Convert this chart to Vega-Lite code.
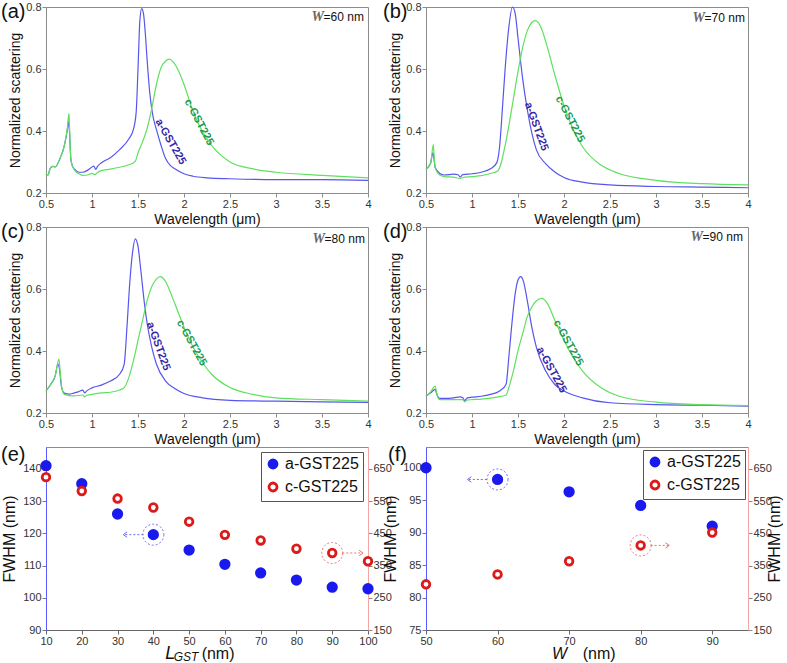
{
"$schema": "https://vega.github.io/schema/vega-lite/v6.json",
"padding": 0,
"background": "white",
"config": {
  "font": "Liberation Sans",
  "view": {"stroke": "#8c8c8c", "strokeWidth": 1},
  "point": {"opacity": 1},
  "axis": {"grid": false, "labelFont": "Liberation Sans", "labelFontSize": 11, "labelColor": "#333", "titleFont": "Liberation Sans", "titleFontSize": 14, "titleFontWeight": "normal", "titleColor": "#111", "domainColor": "#8c8c8c", "tickColor": "#8c8c8c", "tickSize": 4, "labelPadding": 1, "titlePadding": 3, "labelFlush": false, "labelOverlap": false},
  "axisX": {"labelOverlap": false},
  "title": {"fontSize": 20, "fontWeight": "normal", "anchor": "start", "frame": "group", "color": "#111", "font": "Liberation Sans"}
},
"datasets": {
  "w60": [
    {"x":0.5,"v":0.262,"s":"a"},{"x":0.52,"v":0.258,"s":"a"},{"x":0.55,"v":0.282,"s":"a"},{"x":0.58,"v":0.286,"s":"a"},{"x":0.6,"v":0.284,"s":"a"},{"x":0.65,"v":0.31,"s":"a"},{"x":0.7,"v":0.354,"s":"a"},{"x":0.73,"v":0.4,"s":"a"},{"x":0.745,"v":0.43,"s":"a"},{"x":0.755,"v":0.4,"s":"a"},{"x":0.77,"v":0.31,"s":"a"},{"x":0.79,"v":0.285,"s":"a"},{"x":0.82,"v":0.274,"s":"a"},{"x":0.86,"v":0.267,"s":"a"},{"x":0.9,"v":0.267,"s":"a"},{"x":0.95,"v":0.273,"s":"a"},{"x":1.0,"v":0.284,"s":"a"},{"x":1.02,"v":0.287,"s":"a"},{"x":1.04,"v":0.276,"s":"a"},{"x":1.06,"v":0.286,"s":"a"},{"x":1.1,"v":0.297,"s":"a"},{"x":1.2,"v":0.314,"s":"a"},{"x":1.3,"v":0.34,"s":"a"},{"x":1.4,"v":0.374,"s":"a"},{"x":1.45,"v":0.405,"s":"a"},{"x":1.48,"v":0.46,"s":"a"},{"x":1.5,"v":0.6,"s":"a"},{"x":1.52,"v":0.755,"s":"a"},{"x":1.54,"v":0.795,"s":"a"},{"x":1.56,"v":0.778,"s":"a"},{"x":1.58,"v":0.713,"s":"a"},{"x":1.6,"v":0.626,"s":"a"},{"x":1.63,"v":0.517,"s":"a"},{"x":1.66,"v":0.452,"s":"a"},{"x":1.7,"v":0.405,"s":"a"},{"x":1.75,"v":0.354,"s":"a"},{"x":1.8,"v":0.311,"s":"a"},{"x":1.85,"v":0.289,"s":"a"},{"x":1.9,"v":0.278,"s":"a"},{"x":2.0,"v":0.262,"s":"a"},{"x":2.1,"v":0.254,"s":"a"},{"x":2.25,"v":0.249,"s":"a"},{"x":2.5,"v":0.246,"s":"a"},{"x":3.0,"v":0.243,"s":"a"},{"x":3.5,"v":0.243,"s":"a"},{"x":4.0,"v":0.241,"s":"a"},
    {"x":0.5,"v":0.262,"s":"c"},{"x":0.52,"v":0.258,"s":"c"},{"x":0.55,"v":0.282,"s":"c"},{"x":0.58,"v":0.286,"s":"c"},{"x":0.6,"v":0.284,"s":"c"},{"x":0.65,"v":0.31,"s":"c"},{"x":0.7,"v":0.354,"s":"c"},{"x":0.73,"v":0.405,"s":"c"},{"x":0.75,"v":0.457,"s":"c"},{"x":0.755,"v":0.42,"s":"c"},{"x":0.77,"v":0.31,"s":"c"},{"x":0.79,"v":0.285,"s":"c"},{"x":0.82,"v":0.27,"s":"c"},{"x":0.86,"v":0.262,"s":"c"},{"x":0.9,"v":0.257,"s":"c"},{"x":0.95,"v":0.258,"s":"c"},{"x":1.0,"v":0.263,"s":"c"},{"x":1.03,"v":0.259,"s":"c"},{"x":1.06,"v":0.266,"s":"c"},{"x":1.1,"v":0.272,"s":"c"},{"x":1.2,"v":0.277,"s":"c"},{"x":1.3,"v":0.283,"s":"c"},{"x":1.4,"v":0.291,"s":"c"},{"x":1.47,"v":0.302,"s":"c"},{"x":1.5,"v":0.33,"s":"c"},{"x":1.55,"v":0.365,"s":"c"},{"x":1.6,"v":0.409,"s":"c"},{"x":1.65,"v":0.474,"s":"c"},{"x":1.7,"v":0.55,"s":"c"},{"x":1.75,"v":0.604,"s":"c"},{"x":1.8,"v":0.626,"s":"c"},{"x":1.84,"v":0.632,"s":"c"},{"x":1.88,"v":0.624,"s":"c"},{"x":1.95,"v":0.588,"s":"c"},{"x":2.0,"v":0.55,"s":"c"},{"x":2.1,"v":0.463,"s":"c"},{"x":2.2,"v":0.398,"s":"c"},{"x":2.3,"v":0.354,"s":"c"},{"x":2.4,"v":0.322,"s":"c"},{"x":2.5,"v":0.3,"s":"c"},{"x":2.75,"v":0.278,"s":"c"},{"x":3.0,"v":0.267,"s":"c"},{"x":3.5,"v":0.257,"s":"c"},{"x":4.0,"v":0.249,"s":"c"}
  ],
  "w70": [
    {"x":0.5,"v":0.276,"s":"a"},{"x":0.55,"v":0.296,"s":"a"},{"x":0.575,"v":0.33,"s":"a"},{"x":0.585,"v":0.315,"s":"a"},{"x":0.6,"v":0.282,"s":"a"},{"x":0.65,"v":0.263,"s":"a"},{"x":0.7,"v":0.258,"s":"a"},{"x":0.75,"v":0.259,"s":"a"},{"x":0.8,"v":0.261,"s":"a"},{"x":0.85,"v":0.259,"s":"a"},{"x":0.87,"v":0.252,"s":"a"},{"x":0.9,"v":0.259,"s":"a"},{"x":1.0,"v":0.262,"s":"a"},{"x":1.1,"v":0.267,"s":"a"},{"x":1.2,"v":0.278,"s":"a"},{"x":1.27,"v":0.298,"s":"a"},{"x":1.3,"v":0.35,"s":"a"},{"x":1.33,"v":0.47,"s":"a"},{"x":1.36,"v":0.6,"s":"a"},{"x":1.4,"v":0.734,"s":"a"},{"x":1.44,"v":0.8,"s":"a"},{"x":1.47,"v":0.778,"s":"a"},{"x":1.5,"v":0.7,"s":"a"},{"x":1.55,"v":0.57,"s":"a"},{"x":1.6,"v":0.471,"s":"a"},{"x":1.65,"v":0.394,"s":"a"},{"x":1.7,"v":0.339,"s":"a"},{"x":1.8,"v":0.295,"s":"a"},{"x":1.9,"v":0.268,"s":"a"},{"x":2.0,"v":0.25,"s":"a"},{"x":2.2,"v":0.235,"s":"a"},{"x":2.5,"v":0.226,"s":"a"},{"x":3.0,"v":0.221,"s":"a"},{"x":3.5,"v":0.219,"s":"a"},{"x":4.0,"v":0.217,"s":"a"},
    {"x":0.5,"v":0.276,"s":"c"},{"x":0.55,"v":0.296,"s":"c"},{"x":0.58,"v":0.356,"s":"c"},{"x":0.59,"v":0.31,"s":"c"},{"x":0.6,"v":0.282,"s":"c"},{"x":0.65,"v":0.258,"s":"c"},{"x":0.7,"v":0.253,"s":"c"},{"x":0.8,"v":0.251,"s":"c"},{"x":0.87,"v":0.247,"s":"c"},{"x":0.9,"v":0.25,"s":"c"},{"x":1.0,"v":0.253,"s":"c"},{"x":1.1,"v":0.256,"s":"c"},{"x":1.2,"v":0.263,"s":"c"},{"x":1.28,"v":0.271,"s":"c"},{"x":1.32,"v":0.3,"s":"c"},{"x":1.35,"v":0.339,"s":"c"},{"x":1.4,"v":0.416,"s":"c"},{"x":1.45,"v":0.504,"s":"c"},{"x":1.5,"v":0.592,"s":"c"},{"x":1.55,"v":0.668,"s":"c"},{"x":1.6,"v":0.723,"s":"c"},{"x":1.65,"v":0.75,"s":"c"},{"x":1.69,"v":0.756,"s":"c"},{"x":1.75,"v":0.734,"s":"c"},{"x":1.8,"v":0.69,"s":"c"},{"x":1.9,"v":0.581,"s":"c"},{"x":2.0,"v":0.482,"s":"c"},{"x":2.1,"v":0.405,"s":"c"},{"x":2.2,"v":0.35,"s":"c"},{"x":2.4,"v":0.29,"s":"c"},{"x":2.6,"v":0.263,"s":"c"},{"x":3.0,"v":0.241,"s":"c"},{"x":3.5,"v":0.23,"s":"c"},{"x":4.0,"v":0.226,"s":"c"}
  ],
  "w80": [
    {"x":0.5,"v":0.271,"s":"a"},{"x":0.55,"v":0.292,"s":"a"},{"x":0.6,"v":0.32,"s":"a"},{"x":0.63,"v":0.358,"s":"a"},{"x":0.645,"v":0.345,"s":"a"},{"x":0.67,"v":0.282,"s":"a"},{"x":0.7,"v":0.264,"s":"a"},{"x":0.75,"v":0.261,"s":"a"},{"x":0.8,"v":0.264,"s":"a"},{"x":0.85,"v":0.268,"s":"a"},{"x":0.9,"v":0.274,"s":"a"},{"x":0.92,"v":0.265,"s":"a"},{"x":0.95,"v":0.273,"s":"a"},{"x":1.0,"v":0.281,"s":"a"},{"x":1.1,"v":0.29,"s":"a"},{"x":1.2,"v":0.303,"s":"a"},{"x":1.3,"v":0.325,"s":"a"},{"x":1.35,"v":0.358,"s":"a"},{"x":1.38,"v":0.477,"s":"a"},{"x":1.41,"v":0.618,"s":"a"},{"x":1.44,"v":0.716,"s":"a"},{"x":1.47,"v":0.762,"s":"a"},{"x":1.5,"v":0.738,"s":"a"},{"x":1.53,"v":0.662,"s":"a"},{"x":1.57,"v":0.553,"s":"a"},{"x":1.6,"v":0.488,"s":"a"},{"x":1.65,"v":0.412,"s":"a"},{"x":1.7,"v":0.358,"s":"a"},{"x":1.8,"v":0.303,"s":"a"},{"x":1.9,"v":0.279,"s":"a"},{"x":2.0,"v":0.263,"s":"a"},{"x":2.2,"v":0.249,"s":"a"},{"x":2.5,"v":0.241,"s":"a"},{"x":3.0,"v":0.238,"s":"a"},{"x":3.5,"v":0.236,"s":"a"},{"x":4.0,"v":0.234,"s":"a"},
    {"x":0.5,"v":0.271,"s":"c"},{"x":0.55,"v":0.292,"s":"c"},{"x":0.6,"v":0.32,"s":"c"},{"x":0.64,"v":0.374,"s":"c"},{"x":0.655,"v":0.33,"s":"c"},{"x":0.67,"v":0.285,"s":"c"},{"x":0.7,"v":0.26,"s":"c"},{"x":0.8,"v":0.255,"s":"c"},{"x":0.9,"v":0.258,"s":"c"},{"x":0.92,"v":0.252,"s":"c"},{"x":0.95,"v":0.258,"s":"c"},{"x":1.0,"v":0.26,"s":"c"},{"x":1.1,"v":0.265,"s":"c"},{"x":1.2,"v":0.267,"s":"c"},{"x":1.3,"v":0.274,"s":"c"},{"x":1.35,"v":0.282,"s":"c"},{"x":1.4,"v":0.314,"s":"c"},{"x":1.45,"v":0.368,"s":"c"},{"x":1.5,"v":0.434,"s":"c"},{"x":1.55,"v":0.499,"s":"c"},{"x":1.6,"v":0.564,"s":"c"},{"x":1.65,"v":0.608,"s":"c"},{"x":1.7,"v":0.632,"s":"c"},{"x":1.74,"v":0.64,"s":"c"},{"x":1.8,"v":0.624,"s":"c"},{"x":1.85,"v":0.591,"s":"c"},{"x":1.9,"v":0.553,"s":"c"},{"x":2.0,"v":0.477,"s":"c"},{"x":2.1,"v":0.412,"s":"c"},{"x":2.2,"v":0.363,"s":"c"},{"x":2.3,"v":0.325,"s":"c"},{"x":2.5,"v":0.282,"s":"c"},{"x":2.75,"v":0.26,"s":"c"},{"x":3.0,"v":0.249,"s":"c"},{"x":3.5,"v":0.243,"s":"c"},{"x":4.0,"v":0.238,"s":"c"}
  ],
  "w90": [
    {"x":0.5,"v":0.254,"s":"a"},{"x":0.55,"v":0.265,"s":"a"},{"x":0.6,"v":0.276,"s":"a"},{"x":0.61,"v":0.268,"s":"a"},{"x":0.63,"v":0.252,"s":"a"},{"x":0.65,"v":0.247,"s":"a"},{"x":0.7,"v":0.247,"s":"a"},{"x":0.8,"v":0.249,"s":"a"},{"x":0.87,"v":0.252,"s":"a"},{"x":0.9,"v":0.249,"s":"a"},{"x":0.92,"v":0.24,"s":"a"},{"x":0.95,"v":0.249,"s":"a"},{"x":1.0,"v":0.251,"s":"a"},{"x":1.1,"v":0.254,"s":"a"},{"x":1.2,"v":0.26,"s":"a"},{"x":1.3,"v":0.271,"s":"a"},{"x":1.37,"v":0.292,"s":"a"},{"x":1.4,"v":0.379,"s":"a"},{"x":1.43,"v":0.477,"s":"a"},{"x":1.47,"v":0.586,"s":"a"},{"x":1.5,"v":0.629,"s":"a"},{"x":1.53,"v":0.64,"s":"a"},{"x":1.56,"v":0.624,"s":"a"},{"x":1.6,"v":0.564,"s":"a"},{"x":1.65,"v":0.477,"s":"a"},{"x":1.7,"v":0.412,"s":"a"},{"x":1.8,"v":0.336,"s":"a"},{"x":1.9,"v":0.292,"s":"a"},{"x":2.0,"v":0.271,"s":"a"},{"x":2.2,"v":0.249,"s":"a"},{"x":2.5,"v":0.233,"s":"a"},{"x":3.0,"v":0.227,"s":"a"},{"x":3.5,"v":0.225,"s":"a"},{"x":4.0,"v":0.222,"s":"a"},
    {"x":0.5,"v":0.254,"s":"c"},{"x":0.55,"v":0.268,"s":"c"},{"x":0.6,"v":0.287,"s":"c"},{"x":0.615,"v":0.265,"s":"c"},{"x":0.63,"v":0.25,"s":"c"},{"x":0.65,"v":0.243,"s":"c"},{"x":0.7,"v":0.243,"s":"c"},{"x":0.8,"v":0.243,"s":"c"},{"x":0.9,"v":0.243,"s":"c"},{"x":0.92,"v":0.236,"s":"c"},{"x":0.95,"v":0.242,"s":"c"},{"x":1.0,"v":0.243,"s":"c"},{"x":1.1,"v":0.245,"s":"c"},{"x":1.2,"v":0.248,"s":"c"},{"x":1.3,"v":0.253,"s":"c"},{"x":1.37,"v":0.258,"s":"c"},{"x":1.4,"v":0.282,"s":"c"},{"x":1.45,"v":0.336,"s":"c"},{"x":1.5,"v":0.401,"s":"c"},{"x":1.55,"v":0.455,"s":"c"},{"x":1.6,"v":0.51,"s":"c"},{"x":1.65,"v":0.542,"s":"c"},{"x":1.7,"v":0.562,"s":"c"},{"x":1.76,"v":0.57,"s":"c"},{"x":1.82,"v":0.553,"s":"c"},{"x":1.9,"v":0.499,"s":"c"},{"x":2.0,"v":0.434,"s":"c"},{"x":2.1,"v":0.379,"s":"c"},{"x":2.2,"v":0.336,"s":"c"},{"x":2.4,"v":0.282,"s":"c"},{"x":2.6,"v":0.254,"s":"c"},{"x":3.0,"v":0.235,"s":"c"},{"x":3.5,"v":0.227,"s":"c"},{"x":4.0,"v":0.224,"s":"c"}
  ],
  "fe": [
    {"L":10,"g":"a-GST225","f":141.0},{"L":20,"g":"a-GST225","f":135.4},{"L":30,"g":"a-GST225","f":126.0},{"L":40,"g":"a-GST225","f":119.6},{"L":50,"g":"a-GST225","f":114.8},{"L":60,"g":"a-GST225","f":110.4},{"L":70,"g":"a-GST225","f":107.7},{"L":80,"g":"a-GST225","f":105.5},{"L":90,"g":"a-GST225","f":103.3},{"L":100,"g":"a-GST225","f":102.8},
    {"L":10,"g":"c-GST225","f":624.4},{"L":20,"g":"c-GST225","f":581.4},{"L":30,"g":"c-GST225","f":557.9},{"L":40,"g":"c-GST225","f":530.2},{"L":50,"g":"c-GST225","f":486.2},{"L":60,"g":"c-GST225","f":445.3},{"L":70,"g":"c-GST225","f":427.9},{"L":80,"g":"c-GST225","f":402.3},{"L":90,"g":"c-GST225","f":389.0},{"L":100,"g":"c-GST225","f":363.4}
  ],
  "ff": [
    {"W":50,"g":"a-GST225","f":100.0},{"W":60,"g":"a-GST225","f":98.2},{"W":70,"g":"a-GST225","f":96.3},{"W":80,"g":"a-GST225","f":94.2},{"W":90,"g":"a-GST225","f":91.0},
    {"W":50,"g":"c-GST225","f":291.8},{"W":60,"g":"c-GST225","f":322.5},{"W":70,"g":"c-GST225","f":363.4},{"W":80,"g":"c-GST225","f":412.5},{"W":90,"g":"c-GST225","f":452.5}
  ],
  "one": [{}]
},
"concat": [
    {"width": 322, "height": 186,
     "title": {"text": "(a)", "dx": -45, "offset": -21},
     "layer": [
       {"data": {"name": "w60"}, "mark": {"type": "line", "strokeWidth": 1.2, "interpolate": "monotone"},
        "encoding": {
          "x": {"field": "x", "type": "quantitative", "scale": {"domain": [0.5, 4], "nice": false, "zero": false}, "axis": {"title": "Wavelength (μm)", "values": [0.5,1,1.5,2,2.5,3,3.5,4], "format": "~g"}},
          "y": {"field": "v", "type": "quantitative", "scale": {"domain": [0.2, 0.8], "nice": false, "zero": false}, "axis": {"title": "Normalized scattering", "values": [0.2,0.4,0.6,0.8], "format": ".1f"}},
          "color": {"field": "s", "type": "nominal", "scale": {"domain": ["c", "a"], "range": ["#5fe05f", "#5656ee"]}, "legend": null}}},
       {"data": {"name": "one"}, "mark": {"type": "text", "angle": 60, "fontSize": 11, "fontWeight": "bold", "color": "#3526a8"}, "encoding": {"x": {"datum": 1.853}, "y": {"datum": 0.365}, "text": {"value": "a-GST225"}}},
       {"data": {"name": "one"}, "mark": {"type": "text", "angle": 62, "fontSize": 11, "fontWeight": "bold", "color": "#1f9b55"}, "encoding": {"x": {"datum": 2.162}, "y": {"datum": 0.428}, "text": {"value": "c-GST225"}}},
       {"data": {"name": "one"}, "mark": {"type": "text", "align": "right", "fontSize": 12, "color": "#111"}, "encoding": {"x": {"datum": 3.956}, "y": {"datum": 0.768}, "text": {"value": "=60 nm"}}},
       {"data": {"name": "one"}, "mark": {"type": "text", "align": "right", "dx": -40, "fontSize": 14, "font": "Liberation Serif", "fontStyle": "italic", "fontWeight": "bold", "color": "#666"}, "encoding": {"x": {"datum": 3.956}, "y": {"datum": 0.768}, "text": {"value": "W"}}}
     ]},
    {"width": 322, "height": 186,
     "title": {"text": "(b)", "dx": -43, "offset": -21},
     "layer": [
       {"data": {"name": "w70"}, "mark": {"type": "line", "strokeWidth": 1.2, "interpolate": "monotone"},
        "encoding": {
          "x": {"field": "x", "type": "quantitative", "scale": {"domain": [0.5, 4], "nice": false, "zero": false}, "axis": {"title": "Wavelength (μm)", "values": [0.5,1,1.5,2,2.5,3,3.5,4], "format": "~g"}},
          "y": {"field": "v", "type": "quantitative", "scale": {"domain": [0.2, 0.8], "nice": false, "zero": false}, "axis": {"title": "Normalized scattering", "values": [0.2,0.4,0.6,0.8], "format": ".1f"}},
          "color": {"field": "s", "type": "nominal", "scale": {"domain": ["c", "a"], "range": ["#5fe05f", "#5656ee"]}, "legend": null}}},
       {"data": {"name": "one"}, "mark": {"type": "text", "angle": 70, "fontSize": 11, "fontWeight": "bold", "color": "#3526a8"}, "encoding": {"x": {"datum": 1.698}, "y": {"datum": 0.414}, "text": {"value": "a-GST225"}}},
       {"data": {"name": "one"}, "mark": {"type": "text", "angle": 62, "fontSize": 11, "fontWeight": "bold", "color": "#1f9b55"}, "encoding": {"x": {"datum": 2.064}, "y": {"datum": 0.438}, "text": {"value": "c-GST225"}}},
       {"data": {"name": "one"}, "mark": {"type": "text", "align": "right", "fontSize": 12, "color": "#111"}, "encoding": {"x": {"datum": 3.967}, "y": {"datum": 0.765}, "text": {"value": "=70 nm"}}},
       {"data": {"name": "one"}, "mark": {"type": "text", "align": "right", "dx": -40, "fontSize": 14, "font": "Liberation Serif", "fontStyle": "italic", "fontWeight": "bold", "color": "#666"}, "encoding": {"x": {"datum": 3.967}, "y": {"datum": 0.765}, "text": {"value": "W"}}}
     ]},
    {"width": 322, "height": 186,
     "title": {"text": "(c)", "dx": -45, "offset": -21},
     "layer": [
       {"data": {"name": "w80"}, "mark": {"type": "line", "strokeWidth": 1.2, "interpolate": "monotone"},
        "encoding": {
          "x": {"field": "x", "type": "quantitative", "scale": {"domain": [0.5, 4], "nice": false, "zero": false}, "axis": {"title": "Wavelength (μm)", "values": [0.5,1,1.5,2,2.5,3,3.5,4], "format": "~g"}},
          "y": {"field": "v", "type": "quantitative", "scale": {"domain": [0.2, 0.8], "nice": false, "zero": false}, "axis": {"title": "Normalized scattering", "values": [0.2,0.4,0.6,0.8], "format": ".1f"}},
          "color": {"field": "s", "type": "nominal", "scale": {"domain": ["c", "a"], "range": ["#5fe05f", "#5656ee"]}, "legend": null}}},
       {"data": {"name": "one"}, "mark": {"type": "text", "angle": 70, "fontSize": 11, "fontWeight": "bold", "color": "#3526a8"}, "encoding": {"x": {"datum": 1.719}, "y": {"datum": 0.415}, "text": {"value": "a-GST225"}}},
       {"data": {"name": "one"}, "mark": {"type": "text", "angle": 61, "fontSize": 11, "fontWeight": "bold", "color": "#1f9b55"}, "encoding": {"x": {"datum": 2.082}, "y": {"datum": 0.426}, "text": {"value": "c-GST225"}}},
       {"data": {"name": "one"}, "mark": {"type": "text", "align": "right", "fontSize": 12, "color": "#111"}, "encoding": {"x": {"datum": 3.967}, "y": {"datum": 0.761}, "text": {"value": "=80 nm"}}},
       {"data": {"name": "one"}, "mark": {"type": "text", "align": "right", "dx": -40, "fontSize": 14, "font": "Liberation Serif", "fontStyle": "italic", "fontWeight": "bold", "color": "#666"}, "encoding": {"x": {"datum": 3.967}, "y": {"datum": 0.761}, "text": {"value": "W"}}}
     ]},
    {"width": 322, "height": 186,
     "title": {"text": "(d)", "dx": -43, "offset": -21},
     "layer": [
       {"data": {"name": "w90"}, "mark": {"type": "line", "strokeWidth": 1.2, "interpolate": "monotone"},
        "encoding": {
          "x": {"field": "x", "type": "quantitative", "scale": {"domain": [0.5, 4], "nice": false, "zero": false}, "axis": {"title": "Wavelength (μm)", "values": [0.5,1,1.5,2,2.5,3,3.5,4], "format": "~g"}},
          "y": {"field": "v", "type": "quantitative", "scale": {"domain": [0.2, 0.8], "nice": false, "zero": false}, "axis": {"title": "Normalized scattering", "values": [0.2,0.4,0.6,0.8], "format": ".1f"}},
          "color": {"field": "s", "type": "nominal", "scale": {"domain": ["c", "a"], "range": ["#5fe05f", "#5656ee"]}, "legend": null}}},
       {"data": {"name": "one"}, "mark": {"type": "text", "angle": 61, "fontSize": 11, "fontWeight": "bold", "color": "#3526a8"}, "encoding": {"x": {"datum": 1.863}, "y": {"datum": 0.339}, "text": {"value": "a-GST225"}}},
       {"data": {"name": "one"}, "mark": {"type": "text", "angle": 61, "fontSize": 11, "fontWeight": "bold", "color": "#1f9b55"}, "encoding": {"x": {"datum": 2.045}, "y": {"datum": 0.426}, "text": {"value": "c-GST225"}}},
       {"data": {"name": "one"}, "mark": {"type": "text", "align": "right", "fontSize": 12, "color": "#111"}, "encoding": {"x": {"datum": 3.945}, "y": {"datum": 0.768}, "text": {"value": "=90 nm"}}},
       {"data": {"name": "one"}, "mark": {"type": "text", "align": "right", "dx": -40, "fontSize": 14, "font": "Liberation Serif", "fontStyle": "italic", "fontWeight": "bold", "color": "#666"}, "encoding": {"x": {"datum": 3.945}, "y": {"datum": 0.768}, "text": {"value": "W"}}}
     ]},
    {"width": 322, "height": 183,
     "title": {"text": "(e)", "dx": -45, "offset": -18},
     "layer": [
       {"data": {"name": "fe"}, "transform": [{"filter": "datum.g === 'a-GST225'"}], "mark": {"type": "point", "size": 72, "strokeWidth": 2.8},
        "encoding": {
          "x": {"field": "L", "type": "quantitative", "scale": {"domain": [10, 100], "nice": false, "zero": false}, "axis": {"title": null, "values": [10,20,30,40,50,60,70,80,90,100], "labelOverlap": false, "domainColor": "#666", "tickColor": "#666"}},
          "y": {"field": "f", "type": "quantitative", "scale": {"domain": [90, 146.8], "nice": false, "zero": false}, "axis": {"orient": "left", "title": "FWHM (nm)", "titleFontSize": 16, "titlePadding": 5, "values": [90,100,110,120,130,140], "labelOverlap": false, "domainColor": "#5a5aff", "tickColor": "#777"}},
          "fill": {"field": "g", "type": "nominal", "scale": {"domain": ["a-GST225", "c-GST225"], "range": ["#1a1aee", "#ffffff"]},
            "legend": {"title": null, "orient": "top-right", "offset": 5, "padding": 4, "strokeColor": "#555", "fillColor": "#ffffff", "labelFontSize": 16, "labelColor": "#111", "labelFont": "Liberation Sans", "rowPadding": 3, "labelOffset": 4, "symbolSize": 64, "symbolStrokeWidth": 2.8, "symbolType": "circle"}},
          "stroke": {"field": "g", "type": "nominal", "scale": {"domain": ["a-GST225", "c-GST225"], "range": ["#1a1aee", "#dd1a1a"]},
            "legend": {"title": null, "orient": "top-right", "offset": 5, "padding": 4, "strokeColor": "#555", "fillColor": "#ffffff", "labelFontSize": 16, "labelColor": "#111", "labelFont": "Liberation Sans", "rowPadding": 3, "labelOffset": 4, "symbolSize": 64, "symbolStrokeWidth": 2.8, "symbolType": "circle"}}}},
       {"data": {"name": "fe"}, "transform": [{"filter": "datum.g === 'c-GST225'"}], "mark": {"type": "point", "size": 58, "strokeWidth": 2.8},
        "encoding": {
          "x": {"field": "L", "type": "quantitative", "scale": {"domain": [10, 100], "nice": false, "zero": false}, "axis": {"title": null, "values": [10,20,30,40,50,60,70,80,90,100], "labelOverlap": false, "domainColor": "#666", "tickColor": "#666"}},
          "y": {"field": "f", "type": "quantitative", "scale": {"domain": [150, 718], "nice": false, "zero": false}, "axis": {"orient": "right", "title": null, "values": [150,250,350,450,550,650], "labelOverlap": false, "domainColor": "#f4a6a6", "tickColor": "#888"}},
          "fill": {"field": "g", "type": "nominal"},
          "stroke": {"field": "g", "type": "nominal"}}},
       {"data": {"name": "one"}, "mark": {"type": "point", "filled": false, "size": 441, "strokeDash": [2, 2], "strokeWidth": 1, "color": "#6b6bf0"}, "encoding": {"x": {"datum": 40, "type": "quantitative", "axis": {"title": null, "values": [10,20,30,40,50,60,70,80,90,100], "labelOverlap": false, "domainColor": "#666", "tickColor": "#666"}}, "y": {"datum": 119.6, "scale": {"domain": [90, 146.8], "nice": false, "zero": false}, "axis": null}}},
       {"data": {"name": "one"}, "mark": {"type": "rule", "strokeDash": [2, 2], "strokeWidth": 1, "color": "#6b6bf0"}, "encoding": {"x": {"datum": 37.2, "type": "quantitative", "axis": {"title": null, "values": [10,20,30,40,50,60,70,80,90,100], "labelOverlap": false, "domainColor": "#666", "tickColor": "#666"}}, "x2": {"datum": 31.8}, "y": {"datum": 119.6, "scale": {"domain": [90, 146.8], "nice": false, "zero": false}, "axis": null}}},
       {"data": {"name": "one"}, "mark": {"type": "point", "shape": "M1.4,-1L0,0L1.4,1", "size": 30, "filled": false, "strokeWidth": 1, "color": "#6b6bf0"}, "encoding": {"x": {"datum": 31.6, "type": "quantitative", "axis": {"title": null, "values": [10,20,30,40,50,60,70,80,90,100], "labelOverlap": false, "domainColor": "#666", "tickColor": "#666"}}, "y": {"datum": 119.6, "scale": {"domain": [90, 146.8], "nice": false, "zero": false}, "axis": null}}},
       {"data": {"name": "one"}, "mark": {"type": "point", "filled": false, "size": 441, "strokeDash": [2, 2], "strokeWidth": 1, "color": "#f07070"}, "encoding": {"x": {"datum": 90, "type": "quantitative", "axis": {"title": null, "values": [10,20,30,40,50,60,70,80,90,100], "labelOverlap": false, "domainColor": "#666", "tickColor": "#666"}}, "y": {"datum": 389.0, "scale": {"domain": [150, 718], "nice": false, "zero": false}, "axis": null}}},
       {"data": {"name": "one"}, "mark": {"type": "rule", "strokeDash": [2, 2], "strokeWidth": 1, "color": "#f07070"}, "encoding": {"x": {"datum": 92.8, "type": "quantitative", "axis": {"title": null, "values": [10,20,30,40,50,60,70,80,90,100], "labelOverlap": false, "domainColor": "#666", "tickColor": "#666"}}, "x2": {"datum": 98.4}, "y": {"datum": 389.0, "scale": {"domain": [150, 718], "nice": false, "zero": false}, "axis": null}}},
       {"data": {"name": "one"}, "mark": {"type": "point", "shape": "M-1.4,-1L0,0L-1.4,1", "size": 30, "filled": false, "strokeWidth": 1, "color": "#f07070"}, "encoding": {"x": {"datum": 98.6, "type": "quantitative", "axis": {"title": null, "values": [10,20,30,40,50,60,70,80,90,100], "labelOverlap": false, "domainColor": "#666", "tickColor": "#666"}}, "y": {"datum": 389.0, "scale": {"domain": [150, 718], "nice": false, "zero": false}, "axis": null}}},
       {"data": {"name": "one"}, "mark": {"type": "text", "align": "left", "baseline": "alphabetic", "dy": 29, "fontSize": 18, "fontStyle": "italic", "color": "#111"}, "encoding": {"x": {"datum": 43.3, "type": "quantitative", "axis": {"title": null, "values": [10,20,30,40,50,60,70,80,90,100], "labelOverlap": false, "domainColor": "#666", "tickColor": "#666"}}, "y": {"datum": 90, "scale": {"domain": [90, 146.8], "nice": false, "zero": false}, "axis": null}, "text": {"value": "L"}}},
       {"data": {"name": "one"}, "mark": {"type": "text", "align": "left", "baseline": "alphabetic", "dy": 31, "fontSize": 12, "fontStyle": "italic", "color": "#111"}, "encoding": {"x": {"datum": 45.7, "type": "quantitative", "axis": {"title": null, "values": [10,20,30,40,50,60,70,80,90,100], "labelOverlap": false, "domainColor": "#666", "tickColor": "#666"}}, "y": {"datum": 90, "scale": {"domain": [90, 146.8], "nice": false, "zero": false}, "axis": null}, "text": {"value": "GST"}}},
       {"data": {"name": "one"}, "mark": {"type": "text", "align": "left", "baseline": "alphabetic", "dy": 29, "fontSize": 16, "color": "#111"}, "encoding": {"x": {"datum": 53.5, "type": "quantitative", "axis": {"title": null, "values": [10,20,30,40,50,60,70,80,90,100], "labelOverlap": false, "domainColor": "#666", "tickColor": "#666"}}, "y": {"datum": 90, "scale": {"domain": [90, 146.8], "nice": false, "zero": false}, "axis": null}, "text": {"value": "(nm)"}}}
     ],
     "resolve": {"scale": {"y": "independent"}}},
    {"width": 322, "height": 183,
     "title": {"text": "(f)", "dx": -38, "offset": -18},
     "layer": [
       {"data": {"name": "ff"}, "transform": [{"filter": "datum.g === 'a-GST225'"}], "mark": {"type": "point", "size": 72, "strokeWidth": 2.8},
        "encoding": {
          "x": {"field": "W", "type": "quantitative", "scale": {"domain": [50, 95], "nice": false, "zero": false}, "axis": {"title": null, "values": [50,55,60,65,70,75,80,85,90,95], "labelOverlap": false, "labelExpr": "datum.value % 10 === 0 ? datum.label : ''", "domainColor": "#666", "tickColor": "#666"}},
          "y": {"field": "f", "type": "quantitative", "scale": {"domain": [75, 103.2], "nice": false, "zero": false}, "axis": {"orient": "left", "title": "FWHM (nm)", "titleFontSize": 16, "titlePadding": 4, "values": [75,80,85,90,95,100], "labelOverlap": false, "domainColor": "#5a5aff", "tickColor": "#777"}},
          "fill": {"field": "g", "type": "nominal", "scale": {"domain": ["a-GST225", "c-GST225"], "range": ["#1a1aee", "#ffffff"]},
            "legend": {"title": null, "orient": "top-right", "offset": 3, "padding": 4, "strokeColor": "#555", "fillColor": "#ffffff", "labelFontSize": 16, "labelColor": "#111", "labelFont": "Liberation Sans", "rowPadding": 3, "labelOffset": 4, "symbolSize": 64, "symbolStrokeWidth": 2.8, "symbolType": "circle"}},
          "stroke": {"field": "g", "type": "nominal", "scale": {"domain": ["a-GST225", "c-GST225"], "range": ["#1a1aee", "#dd1a1a"]},
            "legend": {"title": null, "orient": "top-right", "offset": 3, "padding": 4, "strokeColor": "#555", "fillColor": "#ffffff", "labelFontSize": 16, "labelColor": "#111", "labelFont": "Liberation Sans", "rowPadding": 3, "labelOffset": 4, "symbolSize": 64, "symbolStrokeWidth": 2.8, "symbolType": "circle"}}}},
       {"data": {"name": "ff"}, "transform": [{"filter": "datum.g === 'c-GST225'"}], "mark": {"type": "point", "size": 58, "strokeWidth": 2.8},
        "encoding": {
          "x": {"field": "W", "type": "quantitative"},
          "y": {"field": "f", "type": "quantitative", "scale": {"domain": [150, 718], "nice": false, "zero": false}, "axis": {"orient": "right", "title": "FWHM (nm)", "titleFontSize": 16, "titleAngle": 270, "titlePadding": 11, "values": [150,250,350,450,550,650], "labelOverlap": false, "domainColor": "#f4a6a6", "tickColor": "#888"}},
          "fill": {"field": "g", "type": "nominal"},
          "stroke": {"field": "g", "type": "nominal"}}},
       {"data": {"name": "one"}, "mark": {"type": "point", "filled": false, "size": 441, "strokeDash": [2, 2], "strokeWidth": 1, "color": "#6b6bf0"}, "encoding": {"x": {"datum": 60}, "y": {"datum": 98.2, "scale": {"domain": [75, 103.2], "nice": false, "zero": false}, "axis": null}}},
       {"data": {"name": "one"}, "mark": {"type": "rule", "strokeDash": [2, 2], "strokeWidth": 1, "color": "#6b6bf0"}, "encoding": {"x": {"datum": 58.5}, "x2": {"datum": 55.9}, "y": {"datum": 98.2, "scale": {"domain": [75, 103.2], "nice": false, "zero": false}, "axis": null}}},
       {"data": {"name": "one"}, "mark": {"type": "point", "shape": "M1.4,-1L0,0L1.4,1", "size": 30, "filled": false, "strokeWidth": 1, "color": "#6b6bf0"}, "encoding": {"x": {"datum": 55.8}, "y": {"datum": 98.2, "scale": {"domain": [75, 103.2], "nice": false, "zero": false}, "axis": null}}},
       {"data": {"name": "one"}, "mark": {"type": "point", "filled": false, "size": 441, "strokeDash": [2, 2], "strokeWidth": 1, "color": "#f07070"}, "encoding": {"x": {"datum": 80}, "y": {"datum": 412.5, "scale": {"domain": [150, 718], "nice": false, "zero": false}, "axis": null}}},
       {"data": {"name": "one"}, "mark": {"type": "rule", "strokeDash": [2, 2], "strokeWidth": 1, "color": "#f07070"}, "encoding": {"x": {"datum": 81.4}, "x2": {"datum": 83.9}, "y": {"datum": 412.5, "scale": {"domain": [150, 718], "nice": false, "zero": false}, "axis": null}}},
       {"data": {"name": "one"}, "mark": {"type": "point", "shape": "M-1.4,-1L0,0L-1.4,1", "size": 30, "filled": false, "strokeWidth": 1, "color": "#f07070"}, "encoding": {"x": {"datum": 84.0}, "y": {"datum": 412.5, "scale": {"domain": [150, 718], "nice": false, "zero": false}, "axis": null}}},
       {"data": {"name": "one"}, "mark": {"type": "text", "align": "left", "baseline": "alphabetic", "dy": 29, "fontSize": 16, "fontStyle": "italic", "color": "#111"}, "encoding": {"x": {"datum": 67.6}, "y": {"datum": 75, "scale": {"domain": [75, 103.2], "nice": false, "zero": false}, "axis": null}, "text": {"value": "W"}}},
       {"data": {"name": "one"}, "mark": {"type": "text", "align": "left", "baseline": "alphabetic", "dy": 29, "fontSize": 16, "color": "#111"}, "encoding": {"x": {"datum": 71.9}, "y": {"datum": 75, "scale": {"domain": [75, 103.2], "nice": false, "zero": false}, "axis": null}, "text": {"value": "(nm)"}}}
     ],
     "resolve": {"scale": {"y": "independent"}}}
],
"columns": 2,
"spacing": {"row": 34, "column": 58},
"bounds": "flush",
"resolve": {"scale": {"fill": "independent", "stroke": "independent"}}
}
